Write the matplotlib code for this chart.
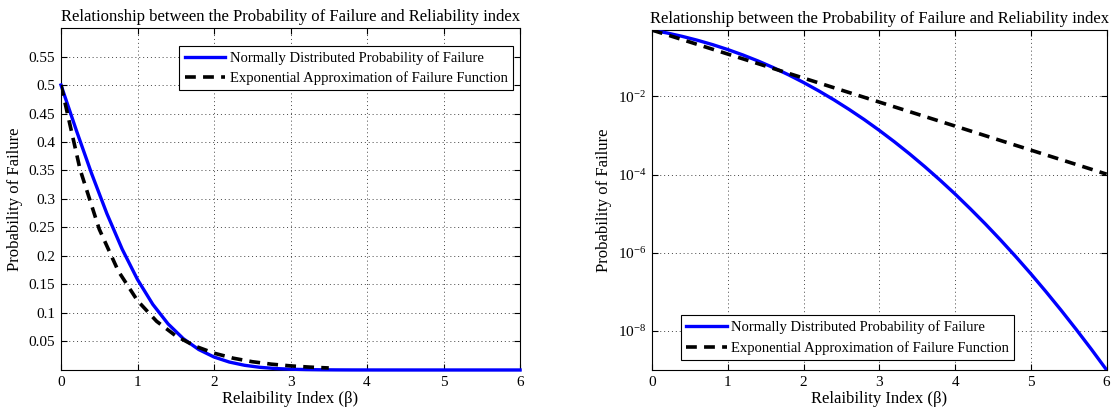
import numpy as np
import matplotlib
matplotlib.use('Agg')
import matplotlib.pyplot as plt
from matplotlib.ticker import FixedLocator, FixedFormatter, NullLocator

plt.rcParams['font.family'] = ['Liberation Serif', 'DejaVu Serif']
plt.rcParams['mathtext.fontset'] = 'custom'
plt.rcParams['mathtext.rm'] = 'Liberation Serif'
plt.rcParams['mathtext.it'] = 'Liberation Serif:italic'

# reliability index and normal-tail probability of failure
beta_norm = [0.0, 0.2, 0.4, 0.6, 0.8, 1.0, 1.2, 1.4, 1.6, 1.8, 2.0,
             2.2, 2.4, 2.6, 2.8, 3.0, 3.2, 3.4, 3.6, 3.8, 4.0,
             4.2, 4.4, 4.6, 4.8, 5.0, 5.2, 5.4, 5.6, 5.8, 6.0]
pf_norm = [0.5, 0.4207, 0.3446, 0.2743, 0.2119, 0.1587, 0.1151, 0.0808,
           0.0548, 0.0359, 0.02275, 0.0139, 0.0082, 0.00466, 0.00256,
           0.00135, 6.87e-4, 3.37e-4, 1.59e-4, 7.23e-5, 3.17e-5, 1.33e-5,
           5.41e-6, 2.11e-6, 7.93e-7, 2.87e-7, 9.96e-8, 3.33e-8, 1.07e-8,
           3.32e-9, 9.87e-10]

# exponential approximation
beta_exp = [0.0, 0.25, 0.5, 0.75, 1.0, 1.25, 1.5, 1.75, 2.0, 2.25, 2.5,
            2.75, 3.0, 3.25, 3.5, 3.75, 4.0, 4.25, 4.5, 4.75, 5.0,
            5.25, 5.5, 5.75, 6.0]
pf_exp = [0.5, 0.3516, 0.247, 0.1733, 0.1216, 0.0854, 0.0599, 0.042,
          0.0295, 0.0207, 0.0145, 0.0102, 0.00716, 0.00503, 0.00353,
          0.00248, 0.00174, 0.00122, 8.56e-4, 6.01e-4, 4.22e-4,
          2.96e-4, 2.08e-4, 1.46e-4, 1.02e-4]
beta_exp_cut = 3.5  # the linear plot only shows the approximation up to here

lin_yticks = [0.05, 0.1, 0.15, 0.2, 0.25, 0.3, 0.35, 0.4, 0.45, 0.5, 0.55]
log_yticks = [1e-8, 1e-6, 1e-4, 1e-2]
log_ylabels = ['$10^{-8}$', '$10^{-6}$', '$10^{-4}$', '$10^{-2}$']
x_ticks = [0, 1, 2, 3, 4, 5, 6]

title = 'Relationship between the Probability of Failure and Reliability index'
lab_norm = 'Normally Distributed Probability of Failure'
lab_exp = 'Exponential Approximation of Failure Function'

fs = 11


def style_axes(ax):
    ax.set_xlim(0, 6)
    ax.xaxis.set_major_locator(FixedLocator(x_ticks))
    ax.tick_params(direction='in', top=True, right=True, length=4,
                   width=0.8, labelsize=fs, pad=4)
    ax.grid(True, linestyle=(0, (1, 3)), color='#444444', linewidth=0.7)
    for s in ax.spines.values():
        s.set_linewidth(0.8)
    ax.set_xlabel('Relaibility Index (β)', fontsize=fs + 1, labelpad=2)
    ax.set_ylabel('Probability of Failure', fontsize=fs + 1)
    ax.set_title(title, fontsize=12, pad=5)


def add_legend(ax, loc, anchor):
    leg = ax.legend(loc=loc, bbox_to_anchor=anchor, borderaxespad=0,
                    fontsize=10.5, fancybox=False, framealpha=1,
                    edgecolor='black', handlelength=2.8, handletextpad=0.3,
                    borderpad=0.35, labelspacing=0.45)
    leg.get_frame().set_linewidth(0.8)


fig = plt.figure(figsize=(11.17, 4.12), dpi=100)
ax1 = fig.add_axes([0.0546, 0.102, 0.411, 0.830])
ax2 = fig.add_axes([0.5837, 0.102, 0.407, 0.825])

# linear scale
bx = np.array(beta_exp)
px = np.array(pf_exp)
keep = bx <= beta_exp_cut
ax1.plot(beta_norm, pf_norm, color='#0000ff', linewidth=2.4,
         label=lab_norm, clip_on=False, zorder=3)
ax1.plot(bx[keep], px[keep], color='black', linewidth=2.6,
         linestyle=(0, (3, 2)), label=lab_exp, zorder=4)
ax1.set_ylim(0, 0.6)
ax1.yaxis.set_major_locator(FixedLocator(lin_yticks))
ax1.yaxis.set_major_formatter(FixedFormatter(['%g' % v for v in lin_yticks]))
style_axes(ax1)
add_legend(ax1, 'upper right', (0.984, 0.947))

# log scale
ax2.semilogy(beta_norm, pf_norm, color='#0000ff', linewidth=2.4,
             label=lab_norm, zorder=3)
ax2.semilogy(beta_exp, pf_exp, color='black', linewidth=2.6,
             linestyle=(0, (3, 2)), label=lab_exp, zorder=4)
ax2.set_ylim(min(pf_norm), max(pf_norm))
ax2.yaxis.set_major_locator(FixedLocator(log_yticks))
ax2.yaxis.set_major_formatter(FixedFormatter(log_ylabels))
ax2.yaxis.set_minor_locator(NullLocator())
style_axes(ax2)
add_legend(ax2, 'lower left', (0.064, 0.03))

plt.savefig('out.png', dpi=100)
